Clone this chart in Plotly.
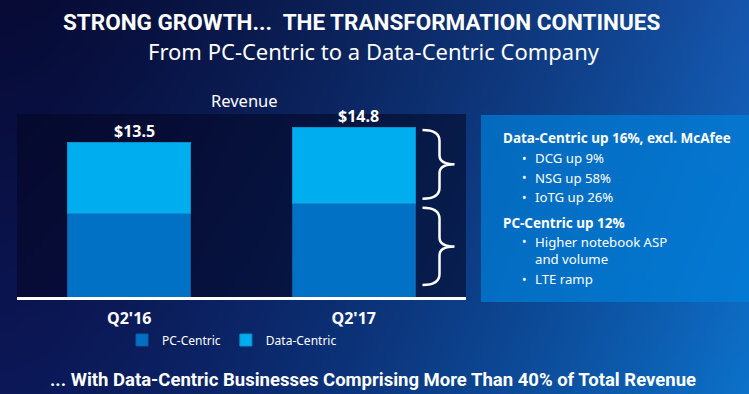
import base64
import struct
import zlib

import numpy as np
import plotly.graph_objects as go

# ---------------- data ----------------
quarters = ["Q2'16", "Q2'17"]
pc_centric = [7.3, 8.2]
data_centric = [6.2, 6.6]
series_names = ["PC-Centric", "Data-Centric"]

title_text = "STRONG GROWTH...  THE TRANSFORMATION CONTINUES"
subtitle_text = "From PC-Centric to a Data-Centric Company"
chart_label = "Revenue"
footer_text = "... With Data-Centric Businesses Comprising More Than 40% of Total Revenue"

note_kinds = ["head", "bullet", "bullet", "bullet", "head", "bullet", "cont", "bullet"]
note_texts = [
    "Data-Centric up 16%, excl. McAfee",
    "DCG up 9%",
    "NSG up 58%",
    "IoTG up 26%",
    "PC-Centric up 12%",
    "Higher notebook ASP",
    "and volume",
    "LTE ramp",
]

totals = [round(a + b, 1) for a, b in zip(pc_centric, data_centric)]

# ---------------- styling helpers ----------------
W, H = 749, 394
PC_COLOR = "#0071c5"
DC_COLOR = "#00aeef"
FONT = "Noto Sans, Open Sans, sans-serif"
DISPLAY = "Roboto, Liberation Sans, sans-serif"


def px(x):
    return x / W


def py(y):
    return 1 - y / H


def png_data_uri(img):
    h, w, _ = img.shape

    def chunk(tag, data):
        return (struct.pack(">I", len(data)) + tag + data
                + struct.pack(">I", zlib.crc32(tag + data) & 0xFFFFFFFF))

    raw = b"".join(b"\x00" + row.tobytes() for row in img)
    png = (b"\x89PNG\r\n\x1a\n"
           + chunk(b"IHDR", struct.pack(">IIBBBBB", w, h, 8, 2, 0, 0, 0))
           + chunk(b"IDAT", zlib.compress(raw, 9))
           + chunk(b"IEND", b""))
    return "data:image/png;base64," + base64.b64encode(png).decode()


# background gradient (slide backdrop)
gw, gh = 375, 197
tx = np.linspace(0, 1, gw) ** 1.5
ty = np.linspace(0, 1, gh)
TL = np.array([7, 11, 53.0])
TR = np.array([22, 85, 172.0])
BL = np.array([12, 24, 88.0])
BR = np.array([12, 114, 202.0])
top = TL + (TR - TL) * tx[:, None]
bot = BL + (BR - BL) * tx[:, None]
grad = top[None] * (1 - ty[:, None, None]) + bot[None] * ty[:, None, None]
bg_uri = png_data_uri(np.clip(grad, 0, 255).astype(np.uint8))

# plot area geometry (pixels)
PL, PR, PT, PB = 17, 466, 114, 297
x_dom = [px(PL), px(PR)]
y_dom = [py(PB), py(PT)]

fig = go.Figure()
fig.add_trace(go.Bar(
    x=quarters, y=pc_centric, name=series_names[0],
    marker=dict(color=PC_COLOR, line=dict(color="#0a5c9e", width=1)),
    width=0.55,
))
fig.add_trace(go.Bar(
    x=quarters, y=data_centric, name=series_names[1],
    marker=dict(color=DC_COLOR, line=dict(color="#0a8fc8", width=1)),
    width=0.55,
))

annotations = []
# totals above bars
for q, t in zip(quarters, totals):
    annotations.append(dict(
        x=q, y=t, xref="x", yref="y", text=f"<b>${t:.1f}</b>", showarrow=False,
        yanchor="bottom", xshift=5, yshift=-1,
        font=dict(family=FONT, size=16, color="white"),
    ))

annotations += [
    dict(x=px(361), y=py(22), xref="paper", yref="paper", text=f"<b>{title_text}</b>",
         showarrow=False, xanchor="center", yanchor="middle",
         font=dict(family=DISPLAY, size=22.5, color="white")),
    dict(x=px(374), y=py(51), xref="paper", yref="paper", text=subtitle_text,
         showarrow=False, xanchor="center", yanchor="middle",
         font=dict(family=FONT, size=22, color="white")),
    dict(x=px(244), y=py(101), xref="paper", yref="paper", text=chart_label,
         showarrow=False, xanchor="center", yanchor="middle",
         font=dict(family=FONT, size=16.5, color="white")),
    dict(x=px(373), y=py(380), xref="paper", yref="paper", text=f"<b>{footer_text}</b>",
         showarrow=False, xanchor="center", yanchor="middle",
         font=dict(family=DISPLAY, size=18.5, color="white")),
]

# right-hand notes panel text
note_y = [138, 158, 177.5, 197, 223, 241.5, 258.5, 279]
for kind, text, yy in zip(note_kinds, note_texts, note_y):
    if kind == "head":
        annotations.append(dict(
            x=px(501), y=py(yy), xref="paper", yref="paper", text=f"<b>{text}</b>",
            showarrow=False, xanchor="left", yanchor="middle",
            font=dict(family=FONT, size=13.5, color="white")))
    else:
        if kind == "bullet":
            annotations.append(dict(
                x=px(520), y=py(yy), xref="paper", yref="paper", text="•",
                showarrow=False, xanchor="left", yanchor="middle",
                font=dict(family=FONT, size=12, color="white")))
        annotations.append(dict(
            x=px(533), y=py(yy), xref="paper", yref="paper", text=text,
            showarrow=False, xanchor="left", yanchor="middle",
            font=dict(family=FONT, size=13.2, color="white")))

shapes = [
    # dark chart panel
    dict(type="rect", xref="paper", yref="paper", x0=x_dom[0], x1=x_dom[1],
         y0=y_dom[0], y1=y_dom[1], fillcolor="rgba(4,6,34,0.55)",
         line=dict(width=0), layer="below"),
    # notes panel
    dict(type="rect", xref="paper", yref="paper", x0=px(481), x1=1.0,
         y0=py(302), y1=py(115), fillcolor="rgba(0,128,218,0.7)",
         line=dict(width=0), layer="below"),
]

# curly braces beside the Q2'17 bar, spanning its two segments
px_per_unit = (PB - PT) / 16.0


def brace(y_top, y_bot):
    x0, x1, x2 = px(422.5), px(439.5), px(454.5)
    r = 11 / px_per_unit
    rt = 9 / px_per_unit
    ym = (y_top + y_bot) / 2
    return (f"M{x0},{y_top} Q{x1},{y_top} {x1},{y_top - r} L{x1},{ym + rt} "
            f"Q{x1},{ym} {x2},{ym} Q{x1},{ym} {x1},{ym - rt} L{x1},{y_bot + r} "
            f"Q{x1},{y_bot} {x0},{y_bot}")


last = len(quarters) - 1
shapes.append(dict(type="path", xref="paper", yref="y",
                   path=brace(totals[last] - 0.2, pc_centric[last] + 0.4),
                   line=dict(color="white", width=2.5)))
shapes.append(dict(type="path", xref="paper", yref="y",
                   path=brace(pc_centric[last] - 0.4, 1.05),
                   line=dict(color="white", width=2.5)))

fig.update_layout(
    width=W, height=H, autosize=False,
    margin=dict(l=0, r=0, t=0, b=0),
    paper_bgcolor="#0a1246",
    plot_bgcolor="rgba(0,0,0,0)",
    barmode="stack",
    bargap=0.3,
    images=[dict(source=bg_uri, xref="paper", yref="paper", x=0, y=1,
                 sizex=1, sizey=1, sizing="stretch", layer="below",
                 xanchor="left", yanchor="top")],
    xaxis=dict(domain=x_dom, range=[-0.5, 1.5], showgrid=False, zeroline=False,
               showline=True, linecolor="white", linewidth=3,
               ticks="", ticklabelstandoff=5,
               tickfont=dict(family=FONT, size=16, color="white", weight="bold")),
    yaxis=dict(domain=y_dom, range=[0, 16.0], showgrid=False, zeroline=False,
               showticklabels=False, showline=False),
    showlegend=True,
    legend=dict(orientation="h", x=px(122), y=py(340), xanchor="left", yanchor="middle",
                bgcolor="rgba(0,0,0,0)", font=dict(family=FONT, size=12, color="white"),
                itemwidth=30, tracegroupgap=0, traceorder="normal"),
    annotations=annotations,
    shapes=shapes,
)

fig.write_html(
    "out.html",
    config={"displayModeBar": False},
    post_script="document.body.style.margin='0';document.body.style.overflow='hidden';",
)
